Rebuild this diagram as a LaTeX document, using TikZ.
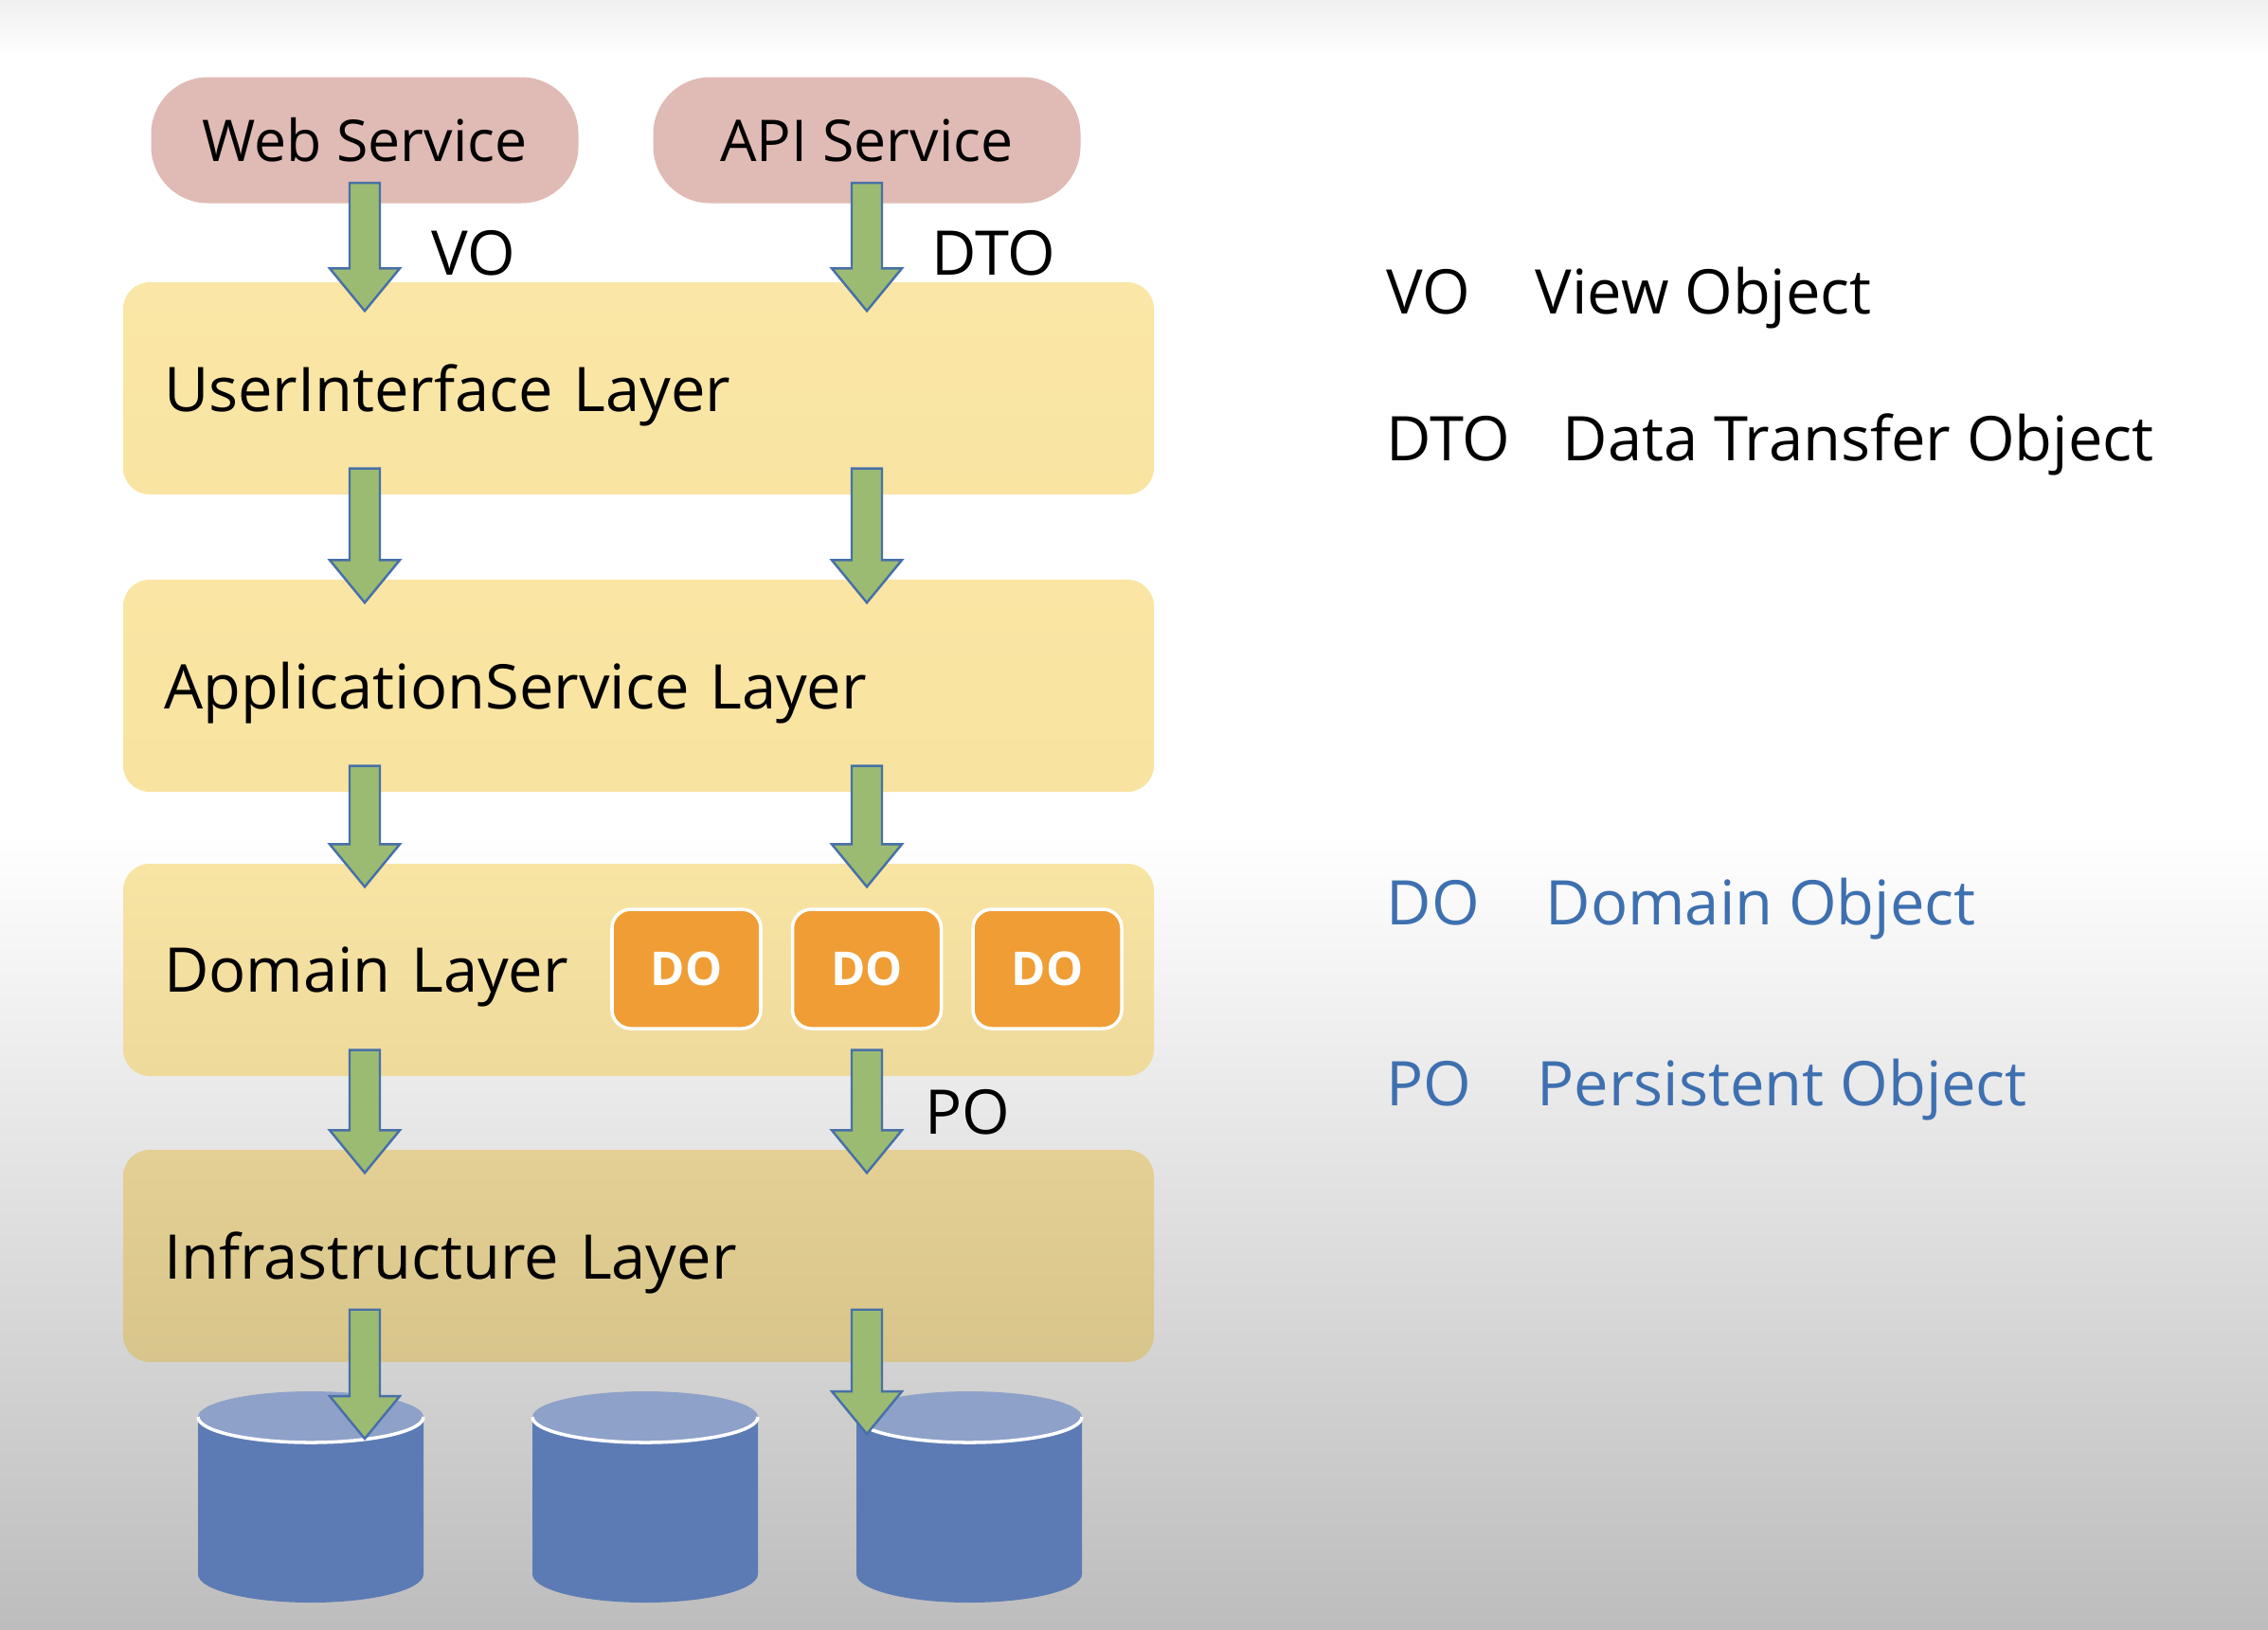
\documentclass[tikz,border=0pt]{standalone}
\usepackage{fontspec}
\setmainfont{Open Sans}
\usetikzlibrary{calc,positioning}
\definecolor{svcpink}{RGB}{224,186,180}
\definecolor{doorange}{RGB}{239,157,52}
\definecolor{arrowgreen}{RGB}{155,187,114}
\definecolor{arrowblue}{RGB}{72,112,168}
\definecolor{dbblue}{RGB}{92,123,180}
\definecolor{dbtop}{RGB}{142,161,200}
\definecolor{legendblue}{RGB}{62,112,176}

\begin{document}
\begin{tikzpicture}[
	service/.style={fill=svcpink, rounded corners=0.6cm, minimum width=4.51cm, minimum height=1.33cm, font=\fontsize{17.3}{20}\selectfont},
	layer/.style={rounded corners=0.28cm, minimum height=2.24cm, text width=10.02cm, text depth=0pt, inner xsep=0.43cm, align=left, font=\fontsize{18.5}{22}\selectfont},
	dobox/.style={fill=doorange, draw=white, line width=1pt, rounded corners=0.2cm, minimum width=1.57cm, minimum height=1.26cm, text=white, font=\fontsize{14}{17}\selectfont\bfseries},
	lbl/.style={font=\fontsize{18.5}{22}\selectfont, anchor=west, inner sep=0pt},
	legend/.style={font=\fontsize{18.5}{22}\selectfont, anchor=base west, inner sep=0pt},
	flow/.style={fill=arrowgreen, draw=arrowblue, line width=0.7pt, line join=miter,
		to path={let \p1=(\tikztostart), \p2=(\tikztotarget) in
			({\x1-0.16cm},\y1) -- ({\x1+0.16cm},\y1) -- ({\x1+0.16cm},{\y2+0.45cm}) -- ({\x1+0.37cm},{\y2+0.45cm})
			-- (\x1,\y2) -- ({\x1-0.37cm},{\y2+0.45cm}) -- ({\x1-0.16cm},{\y2+0.45cm}) -- cycle}}
]
	\fill[white] (0,0) rectangle (23.94,-17.2);
	\shade[top color=black!6, bottom color=white] (0,0) rectangle (23.94,-0.6);
	\shade[top color=white, bottom color=black!26] (0,-8.8) rectangle (23.94,-17.2);
	\useasboundingbox (0,0) rectangle (23.94,-17.2);

	\node[service] (web) at (3.85,-1.48) {Web Service};
	\node[service] (api) at (9.15,-1.48) {API Service};

	\node[layer, top color={rgb,255:red,250;green,230;blue,166}, bottom color={rgb,255:red,249;green,228;blue,162}] (ui) at (6.74,-4.10) {UserInterface Layer};
	\node[layer, top color={rgb,255:red,250;green,229;blue,164}, bottom color={rgb,255:red,248;green,227;blue,160}] (app) at (6.74,-7.24) {ApplicationService Layer};
	\node[layer, top color={rgb,255:red,248;green,228;blue,163}, bottom color={rgb,255:red,238;green,218;blue,155}] (dom) at (6.74,-10.24) {Domain Layer};
	\node[layer, top color={rgb,255:red,228;green,208;blue,148}, bottom color={rgb,255:red,216;green,197;blue,139}] (infra) at (6.74,-13.26) {Infrastructure Layer};

	\node[dobox] (do2) at (9.15,-10.23) {DO};
	\node[dobox, left=0.3cm of do2] (do1) {DO};
	\node[dobox, right=0.3cm of do2] (do3) {DO};

	\foreach \cx in {3.28,6.81,10.23} {
		\fill[dbblue] (\cx-1.19,-14.96) -- (\cx-1.19,-16.62) arc[start angle=180, end angle=360, x radius=1.19, y radius=0.3] -- (\cx+1.19,-14.96) -- cycle;
		\fill[dbtop] (\cx,-14.96) ellipse[x radius=1.19, y radius=0.27];
		\draw[white, line width=1pt] (\cx-1.19,-14.96) arc[start angle=180, end angle=360, x radius=1.19, y radius=0.27];
	}
	\coordinate (dbl) at (3.85,-15.19);
	\coordinate (dbr) at (9.15,-15.14);

	\foreach \c/\t in {web/ui, api/ui}
		\draw[flow] ($(\c.south)+(0,0.22)$) to ($(\c.south |- \t.north)+(0,-0.31)$);
	\foreach \a/\b in {ui/app, app/dom, dom/infra}
		\foreach \c in {web, api}
			\draw[flow] ($(\c.south |- \a.south)+(0,0.28)$) to ($(\c.south |- \b.north)+(0,-0.25)$);
	\draw[flow] ($(web.south |- infra.south)+(0,0.56)$) to (dbl);
	\draw[flow] ($(api.south |- infra.south)+(0,0.56)$) to (dbr);

	\node[lbl] (vo) at (4.55,-2.67) {VO};
	\node[lbl] (dto) at (9.83,-2.67) {DTO};
	\node[lbl] (po) at (9.76,-11.74) {PO};

	\node[legend] (kvo) at (14.63,-3.31) {VO};
	\node[legend] (tvo) at (16.20,-3.31) {View Object};
	\node[legend] (kdto) at (14.63,-4.86) {DTO};
	\node[legend] (tdto) at (16.49,-4.86) {Data Transfer Object};
	\node[legend, text=legendblue] (kdo) at (14.63,-9.76) {DO};
	\node[legend, text=legendblue] (tdo) at (16.31,-9.76) {Domain Object};
	\node[legend, text=legendblue] (kpo) at (14.63,-11.67) {PO};
	\node[legend, text=legendblue] (tpo) at (16.22,-11.67) {Persistent Object};
\end{tikzpicture}
\end{document}
